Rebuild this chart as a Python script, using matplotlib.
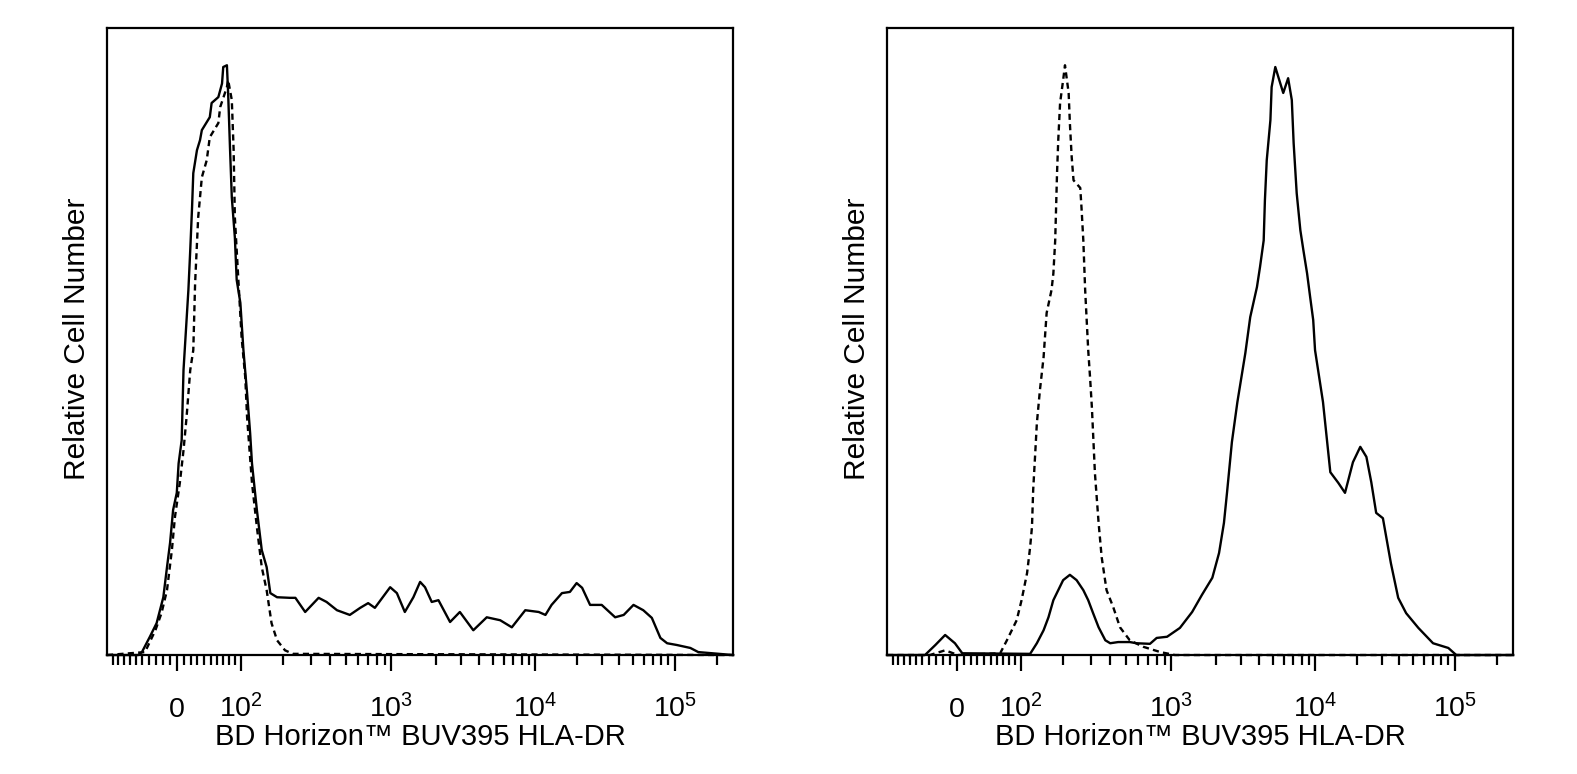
"""
Flow cytometry histograms: BD Horizon BUV395 HLA-DR staining vs isotype control
"""
import numpy as np
import matplotlib
matplotlib.use("Agg")
import matplotlib.pyplot as plt

plt.rcParams["font.family"] = ["Liberation Sans", "DejaVu Sans"]
plt.rcParams["mathtext.fontset"] = "custom"
plt.rcParams["mathtext.rm"] = "Liberation Sans"
plt.rcParams["mathtext.it"] = "Liberation Sans"

# histograms: logicle channel (0-1024) vs relative count (peak = 100)
left_solid_ch = [0, 51, 57, 70, 81, 92, 98, 103, 108, 114, 117, 122, 125, 128, 133, 136, 139, 141,
                 147, 152, 155, 168, 171, 182, 188, 190, 196, 198, 201, 204, 209, 212, 218, 223, 229,
                 234, 237, 245, 253, 261, 267, 278, 299, 308, 324, 346, 359, 376, 397, 414, 427, 438,
                 463, 474, 487, 501, 512, 520, 531, 542, 561, 577, 599, 621, 643, 662, 684, 706, 717,
                 727, 744, 757, 768, 777, 790, 809, 831, 845, 861, 877, 891, 905, 916, 932, 954, 967, 1024]
left_solid_n = [0, 0, 0.5, 3.1, 5.4, 9.8, 14.9, 19.0, 24.6, 27.5, 32.5, 36.4, 48.3, 53.4, 61.9, 68.6,
                75.9, 81.7, 85.6, 87.3, 89.0, 91.2, 93.6, 94.6, 96.9, 99.7, 100, 95.3, 86.1, 77.6, 70.8,
                63.6, 59.7, 51.7, 44.4, 37.6, 32.5, 24.6, 17.8, 14.9, 10.5, 9.8, 9.7, 9.7, 7.3, 9.7, 9.0,
                7.6, 6.8, 8.0, 8.8, 8.0, 11.5, 10.5, 7.3, 9.8, 12.4, 11.5, 9.0, 9.3, 5.6, 7.3, 4.2, 6.4,
                5.9, 4.7, 7.6, 7.3, 6.8, 8.5, 10.5, 10.7, 12.2, 11.4, 8.5, 8.5, 6.4, 6.8, 8.5, 7.6, 6.3,
                2.9, 2.0, 1.7, 1.2, 0.5, 0]

left_ctrl_ch = [0, 62, 79, 89, 98, 106, 111, 119, 125, 130, 136, 141, 144, 149, 155, 163, 168, 182,
                185, 196, 198, 204, 207, 209, 215, 220, 226, 229, 237, 245, 253, 261, 269, 278, 291,
                304, 1024]
left_ctrl_n = [0, 0.5, 4.2, 7.1, 11.0, 17.8, 23.4, 29.2, 34.7, 40.3, 48.3, 51.7, 63.1, 74.2, 81.0,
               83.9, 87.8, 90.2, 92.9, 96.3, 97.5, 94.1, 85.6, 74.2, 63.1, 53.9, 47.1, 40.3, 29.2,
               21.7, 14.9, 11.0, 5.4, 2.5, 0.8, 0.2, 0]

right_solid_ch = [0, 62, 79, 95, 111, 123, 234, 245, 256, 264, 272, 280, 288, 299, 310, 321, 329,
                  337, 346, 357, 365, 378, 397, 408, 430, 441, 458, 479, 499, 515, 532, 543, 551, 556,
                  564, 573, 586, 594, 605, 610, 616, 618, 621, 627, 629, 635, 640, 648, 656, 662, 665,
                  670, 676, 681, 687, 692, 697, 700, 713, 725, 738, 749, 762, 774, 784, 792, 800, 811,
                  824, 836, 849, 869, 893, 918, 931, 1024]
right_solid_n = [0, 0, 1.7, 3.4, 2.0, 0.3, 0.2, 2.0, 4.2, 6.4, 9.3, 11.0, 12.7, 13.6, 12.7, 11.0,
                 9.3, 7.1, 4.7, 2.5, 2.0, 2.2, 2.2, 2.0, 1.9, 2.9, 3.1, 4.6, 7.3, 10.2, 13.1, 17.3,
                 22.4, 27.5, 36.1, 42.9, 51.2, 57.3, 62.4, 65.8, 70.3, 77.1, 83.9, 90.7, 96.3, 99.7,
                 98.0, 95.3, 97.8, 94.1, 86.8, 78.3, 72.0, 68.6, 64.7, 60.7, 56.8, 51.7, 42.9, 31.0,
                 29.2, 27.5, 32.7, 35.3, 33.6, 29.3, 24.1, 23.2, 15.6, 9.7, 7.1, 4.6, 2.0, 1.2, 0, 0]

right_ctrl_ch = [0, 70, 95, 116, 185, 196, 212, 220, 229, 234, 237, 239, 242, 245, 250, 256, 261,
                 269, 272, 275, 278, 280, 283, 288, 291, 297, 299, 302, 305, 316, 318, 321, 324, 329,
                 332, 335, 340, 346, 351, 359, 370, 381, 397, 419, 447, 471, 1024]
right_ctrl_n = [0, 0, 0.8, 0, 0.3, 2.5, 5.9, 9.3, 13.9, 18.3, 21.7, 28.0, 33.6, 39.3, 44.9, 50.5,
                58.0, 61.9, 64.7, 70.3, 81.7, 87.3, 93.6, 97.5, 100, 95.3, 90.2, 84.4, 80.5, 79.2,
                75.9, 70.3, 61.9, 51.7, 47.1, 42.0, 30.8, 22.4, 16.6, 11.0, 8.1, 4.7, 2.5, 1.4, 0.5,
                0, 0]

major_vals = [0, 1e2, 1e3, 1e4, 1e5]
major_labels = ["0", "$10^2$", "$10^3$", "$10^4$", "$10^5$"]
minor_vals = ([-v for v in range(10, 110, 10)] + list(range(10, 100, 10))
              + list(range(200, 1000, 100)) + list(range(2000, 10000, 1000))
              + list(range(20000, 100000, 10000)) + [200000])

x_label = "BD Horizon™ BUV395 HLA-DR"
y_label = "Relative Cell Number"


def logicle_channel(values, T=262144, M=4.5, W=0.5, n_ch=1024):
    """map data values onto logicle display channels"""
    ps = np.linspace(1.0001, 50, 200000)
    p = np.interp(W, 2 * ps * np.log10(ps) / (ps + 1), ps)
    y = np.linspace(0, M, 40001)
    d = np.abs(y - W)
    s = T * 10 ** -(M - W) * (10 ** d - p ** 2 * 10 ** (-d / p) + p ** 2 - 1)
    s = np.sign(y - W) * s
    return np.interp(values, s, y) / M * n_ch


def histogram_panel(ax, solid_ch, solid_n, ctrl_ch, ctrl_n):
    ax.plot(ctrl_ch, ctrl_n, color="black", lw=1.7, ls=(0, (2.6, 1.8)), clip_on=False)
    ax.plot(solid_ch, solid_n, color="black", lw=1.7, clip_on=False)

    ax.set_xlim(0, 1024)
    ax.set_ylim(0, 106.3)
    ax.set_yticks([])

    ax.set_xticks(logicle_channel(major_vals))
    ax.set_xticklabels(major_labels)
    minor = logicle_channel(minor_vals)
    ax.set_xticks(minor[(minor > 0) & (minor < 1024)], minor=True)
    ax.tick_params(axis="x", which="major", direction="out", length=11.5, width=1.6,
                   labelsize=20.5, pad=33)
    ax.tick_params(axis="x", which="minor", direction="out", length=7, width=1.6)
    for lbl in ax.get_xticklabels():
        lbl.set_verticalalignment("baseline")

    for sp in ax.spines.values():
        sp.set_linewidth(1.6)

    ax.set_xlabel(x_label, fontsize=21, va="baseline")
    ax.xaxis.set_label_coords(0.5, -0.1435)
    ax.set_ylabel(y_label, fontsize=21.5, va="center")
    ax.yaxis.set_label_coords(-0.0487, 0.504)


if __name__ == "__main__":
    fig = plt.figure(figsize=(15.77, 7.74), dpi=100)
    ax1 = fig.add_axes([0.0679, 0.1537, 0.397, 0.810])
    ax2 = fig.add_axes([0.5625, 0.1537, 0.397, 0.810])

    histogram_panel(ax1, left_solid_ch, left_solid_n, left_ctrl_ch, left_ctrl_n)
    histogram_panel(ax2, right_solid_ch, right_solid_n, right_ctrl_ch, right_ctrl_n)

    fig.savefig("out.png", dpi=100, facecolor="white")
